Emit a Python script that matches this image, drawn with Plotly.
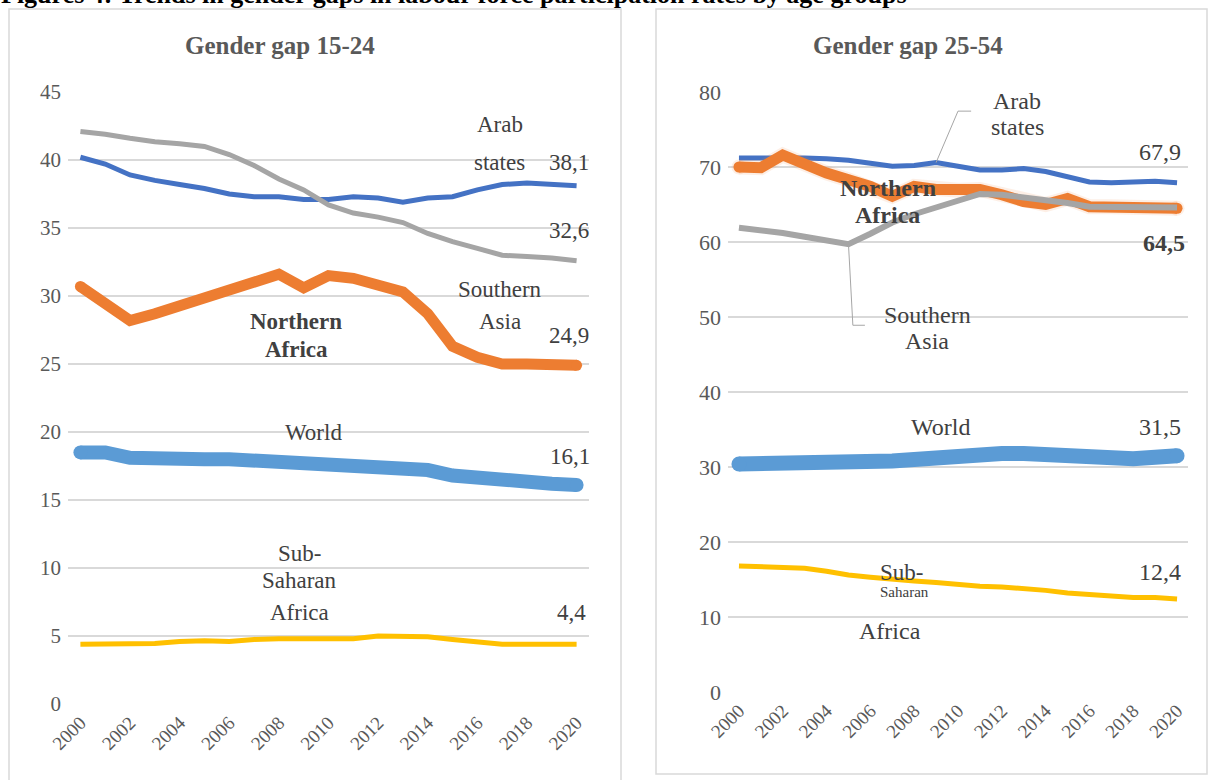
import plotly.graph_objects as go

# ---- data -------------------------------------------------------------
years = list(range(2000, 2021))
x_ticks = list(range(2000, 2021, 2))

# Gender gap, ages 15-24
arab_1524 = [40.2, 39.7, 38.9, 38.5, 38.2, 37.9, 37.5, 37.3, 37.3, 37.1, 37.1,
             37.3, 37.2, 36.9, 37.2, 37.3, 37.8, 38.2, 38.3, 38.2, 38.1]
nafr_1524 = [30.7, 29.4, 28.2, 28.7, 29.3, 29.9, 30.5, 31.0, 31.6, 30.6, 31.5,
             31.3, 30.9, 30.3, 28.7, 26.3, 25.5, 25.0, 25.0, 25.0, 24.9]
sasia_1524 = [42.1, 41.9, 41.6, 41.35, 41.2, 41.0, 40.4, 39.6, 38.6, 37.8, 36.7,
              36.1, 35.8, 35.4, 34.6, 34.0, 33.5, 33.0, 32.9, 32.8, 32.6]
world_1524 = [18.5, 18.5, 18.1, 18.0, 18.1, 18.0, 18.0, 17.9, 17.9, 17.7, 17.6,
              17.6, 17.6, 17.4, 17.2, 16.8, 16.6, 16.4, 16.3, 16.2, 16.1]
ssa_1524 = [4.4, 4.4, 4.4, 4.45, 4.6, 4.65, 4.6, 4.75, 4.8, 4.8, 4.8,
            4.8, 5.0, 4.95, 4.95, 4.75, 4.55, 4.4, 4.4, 4.4, 4.4]

# Gender gap, ages 25-54
arab_2554 = [71.2, 71.2, 71.3, 71.2, 71.1, 70.9, 70.5, 70.1, 70.2, 70.6, 70.1,
             69.6, 69.6, 69.8, 69.4, 68.7, 68.0, 67.9, 67.95, 68.1, 67.9]
nafr_2554 = [70.0, 69.9, 71.6, 70.3, 69.2, 68.3, 67.4, 66.1, 67.4, 67.0, 66.9,
             67.0, 66.3, 65.4, 65.0, 65.8, 64.7, 64.7, 64.6, 64.5, 64.5]
sasia_2554 = [61.9, 61.6, 61.2, 60.7, 60.2, 59.7, 61.1, 62.6, 63.7, 64.6, 65.5,
              66.4, 66.3, 66.0, 65.6, 65.2, 64.7, 64.7, 64.7, 64.7, 64.6]
world_2554 = [30.4, 30.4, 30.6, 30.4, 30.4, 30.4, 30.6, 30.8, 31.0, 31.3, 31.5,
              31.7, 31.8, 31.8, 31.7, 31.3, 31.0, 30.9, 31.1, 31.3, 31.5]
ssa_2554 = [16.8, 16.7, 16.7, 16.5, 16.1, 15.6, 15.3, 15.0, 14.8, 14.6, 14.3,
            14.1, 14.0, 13.8, 13.55, 13.2, 13.0, 12.7, 12.6, 12.6, 12.4]

left_yticks = list(range(0, 50, 5))
right_yticks = list(range(0, 90, 10))

# ---- styling ----------------------------------------------------------
BLUE = "#4472C4"
ORANGE = "#ED7D31"
GRAY = "#A5A5A5"
LIGHTBLUE = "#5B9BD5"
YELLOW = "#FFC000"
TXT = "#404040"
AXTXT = "#595959"
SERIF = "Liberation Serif, Times New Roman, serif"
W, H = 1210, 780

fig = go.Figure()


def add_line(x, y, color, width, xa, ya, round_ends=False):
    fig.add_trace(go.Scatter(
        x=x, y=y, mode="lines", line=dict(color=color, width=width),
        xaxis=xa, yaxis=ya, hoverinfo="skip", showlegend=False))
    if round_ends:
        # round caps on the thick lines
        fig.add_trace(go.Scatter(
            x=[x[0], x[-1]], y=[y[0], y[-1]], mode="markers",
            marker=dict(color=color, size=width, line=dict(width=0)),
            xaxis=xa, yaxis=ya, hoverinfo="skip", showlegend=False))


# left panel
add_line(years, arab_1524, BLUE, 5, "x", "y")
add_line(years, nafr_1524, ORANGE, 11, "x", "y", round_ends=True)
add_line(years, sasia_1524, GRAY, 5, "x", "y")
add_line(years, world_1524, LIGHTBLUE, 14, "x", "y", round_ends=True)
add_line(years, ssa_1524, YELLOW, 5, "x", "y")

# right panel
add_line(years, arab_2554, BLUE, 5, "x2", "y2")
add_line(years, nafr_2554, "rgba(237,125,49,0.12)", 15, "x2", "y2", round_ends=True)
add_line(years, nafr_2554, ORANGE, 11, "x2", "y2", round_ends=True)
add_line(years, sasia_2554, GRAY, 6, "x2", "y2")
add_line(years, world_2554, LIGHTBLUE, 15, "x2", "y2", round_ends=True)
add_line(years, ssa_2554, YELLOW, 5, "x2", "y2")

# leader lines for the right-panel labels
fig.add_trace(go.Scatter(x=[2010.6, 2010.0, 2009.0], y=[77.45, 77.45, 70.6],
                         mode="lines", line=dict(color="#A6A6A6", width=1),
                         xaxis="x2", yaxis="y2", hoverinfo="skip", showlegend=False))
fig.add_trace(go.Scatter(x=[2005.0, 2005.2, 2005.75], y=[59.7, 48.9, 48.9],
                         mode="lines", line=dict(color="#A6A6A6", width=1),
                         xaxis="x2", yaxis="y2", hoverinfo="skip", showlegend=False))

# ---- axes -------------------------------------------------------------
xcommon = dict(range=[1999.5, 2020.5], tickmode="array", tickvals=x_ticks,
               ticktext=[str(t) for t in x_ticks], tickangle=-45,
               showgrid=False, zeroline=False, showline=False, ticks="",
               ticklabelstandoff=3,
               tickfont=dict(family=SERIF, size=19, color=AXTXT),
               automargin=False, fixedrange=True)
ycommon = dict(showgrid=True, gridcolor="#D9D9D9", gridwidth=1.5, zeroline=False,
               showline=False, ticks="", ticklabelstandoff=6,
               automargin=False, fixedrange=True)

fig.update_layout(
    xaxis=dict(domain=[68 / W, 589 / W], anchor="y", **xcommon),
    yaxis=dict(domain=[76 / H, 688 / H], anchor="x", range=[0, 45],
               tickvals=left_yticks,
               tickfont=dict(family=SERIF, size=21, color=AXTXT), **ycommon),
    xaxis2=dict(domain=[728 / W, 1188 / W], anchor="y2", **xcommon),
    yaxis2=dict(domain=[88 / H, 688 / H], anchor="x2", range=[0, 80],
                tickvals=right_yticks,
                tickfont=dict(family=SERIF, size=22, color=AXTXT), **ycommon),
)

# ---- text -------------------------------------------------------------
ann = []


def label(text, x, y, xref, yref, size=23, bold=False, color=TXT, xanchor="center"):
    ann.append(dict(text=f"<b>{text}</b>" if bold else text, x=x, y=y,
                    xref=xref, yref=yref, showarrow=False, xanchor=xanchor,
                    yanchor="middle", font=dict(family=SERIF, size=size, color=color)))


# figure header (runs off the top edge of the page)
ann.append(dict(text="<b>Figures 4: Trends in gender gaps in labour force participation rates by age groups</b>",
                x=0, y=1 - 10 / H, xref="paper", yref="paper", xanchor="left",
                yanchor="bottom", showarrow=False, borderpad=0,
                font=dict(family=SERIF, size=26, color="#000000")))

# panel titles
label("Gender gap 15-24", 280 / W, 1 - 45 / H, "paper", "paper", size=25, bold=True, color=AXTXT)
label("Gender gap 25-54", 908 / W, 1 - 45 / H, "paper", "paper", size=25, bold=True, color=AXTXT)

# left panel labels
label("Arab", 2016.9, 42.6, "x", "y")
label("states", 2016.9, 39.85, "x", "y")
label("38,1", 2019.7, 39.85, "x", "y")
label("32,6", 2019.7, 34.85, "x", "y")
label("Southern", 2016.9, 30.5, "x", "y")
label("Asia", 2016.9, 28.1, "x", "y")
label("24,9", 2019.7, 27.1, "x", "y")
label("Northern", 2008.7, 28.1, "x", "y", bold=True)
label("Africa", 2008.7, 26.1, "x", "y", bold=True)
label("World", 2009.4, 20.0, "x", "y")
label("16,1", 2019.75, 18.2, "x", "y")
label("Sub-", 2008.85, 11.1, "x", "y")
label("Saharan", 2008.85, 9.1, "x", "y")
label("Africa", 2008.85, 6.76, "x", "y")
label("4,4", 2019.8, 6.76, "x", "y")

# right panel labels
label("Arab", 2012.7, 78.8, "x2", "y2", size=24)
label("states", 2012.7, 75.3, "x2", "y2", size=24)
label("67,9", 2019.2, 72.0, "x2", "y2", size=24)
label("Northern", 2006.8, 67.2, "x2", "y2", size=24, bold=True)
label("Africa", 2006.8, 63.6, "x2", "y2", size=24, bold=True)
label("64,5", 2019.4, 59.9, "x2", "y2", size=24, bold=True)
label("Southern", 2008.6, 50.3, "x2", "y2", size=24)
label("Asia", 2008.6, 46.8, "x2", "y2", size=24)
label("World", 2009.2, 35.3, "x2", "y2", size=24)
label("31,5", 2019.2, 35.3, "x2", "y2", size=24)
label("Sub-", 2006.35, 16.0, "x2", "y2", size=23, xanchor="left")
label("Saharan", 2006.35, 13.3, "x2", "y2", size=15, xanchor="left")
label("Africa", 2006.9, 8.1, "x2", "y2", size=24)
label("12,4", 2019.2, 16.0, "x2", "y2", size=24)

# panel frames
shapes = [
    dict(type="rect", xref="paper", yref="paper", x0=9 / W, x1=621 / W,
         y0=-20 / H, y1=1 - 9 / H, line=dict(color="#D9D9D9", width=1.5)),
    dict(type="rect", xref="paper", yref="paper", x0=656 / W, x1=1207 / W,
         y0=1 - 774 / H, y1=1 - 9 / H, line=dict(color="#D9D9D9", width=1.5)),
]

fig.update_layout(
    width=W, height=H, margin=dict(l=0, r=0, t=0, b=0),
    paper_bgcolor="white", plot_bgcolor="white",
    annotations=ann, shapes=shapes, showlegend=False,
)

fig.write_html("out.html")
